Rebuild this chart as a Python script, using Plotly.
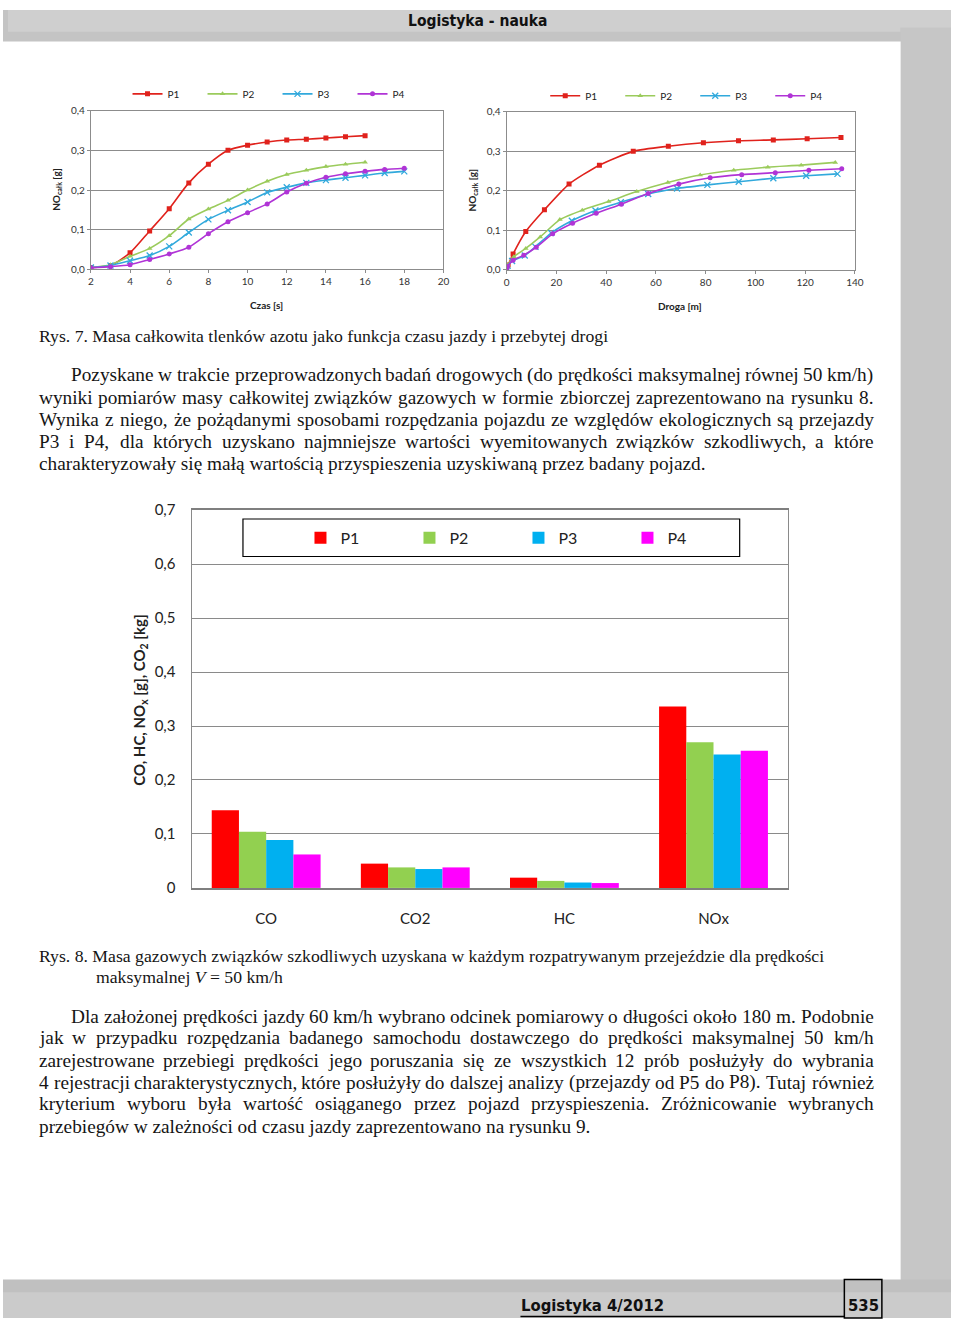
import plotly.graph_objects as go

PAGE_W, PAGE_H = 960, 1326
OX, OY = 0, 0
FIG_W, FIG_H = PAGE_W - 2 * OX, PAGE_H - 2 * OY

series = ["P1", "P2", "P3", "P4"]

# ---- Rys. 7 (left): NOx total vs time [s]
time_P1 = [2, 3, 4, 5, 6, 7, 8, 9, 10, 11, 12, 13, 14, 15, 16]
nox_time_P1 = [0.005, 0.010, 0.042, 0.097, 0.153, 0.218, 0.265, 0.300, 0.313, 0.321, 0.326, 0.328, 0.331, 0.334, 0.337]
time_P2 = [2, 3, 4, 5, 6, 7, 8, 9, 10, 11, 12, 13, 14, 15, 16]
nox_time_P2 = [0.005, 0.012, 0.033, 0.053, 0.085, 0.127, 0.152, 0.174, 0.200, 0.222, 0.239, 0.250, 0.259, 0.265, 0.270]
time_P3 = [2, 3, 4, 5, 6, 7, 8, 9, 10, 11, 12, 13, 14, 15, 16, 17, 18]
nox_time_P3 = [0.005, 0.010, 0.022, 0.035, 0.058, 0.093, 0.126, 0.149, 0.170, 0.194, 0.207, 0.218, 0.225, 0.231, 0.237, 0.243, 0.247]
time_P4 = [2, 3, 4, 5, 6, 7, 8, 9, 10, 11, 12, 13, 14, 15, 16, 17, 18]
nox_time_P4 = [0.004, 0.007, 0.012, 0.025, 0.039, 0.056, 0.090, 0.120, 0.143, 0.165, 0.195, 0.217, 0.232, 0.241, 0.247, 0.252, 0.255]

# ---- Rys. 7 (right): NOx total vs distance [m]
dist_P1 = [0, 0.6, 2.6, 7.7, 15.2, 25.1, 37.3, 50.9, 65.0, 79.1, 93.2, 107.2, 120.8, 134.4]
nox_dist_P1 = [0.005, 0.012, 0.040, 0.097, 0.152, 0.217, 0.265, 0.300, 0.313, 0.322, 0.327, 0.329, 0.332, 0.335]
dist_P2 = [0, 0.5, 2.9, 7.7, 13.5, 21.4, 30.4, 41.0, 52.3, 64.8, 77.8, 91.3, 105.0, 118.4, 132.1]
nox_dist_P2 = [0.005, 0.012, 0.033, 0.054, 0.083, 0.127, 0.151, 0.173, 0.198, 0.221, 0.240, 0.252, 0.260, 0.265, 0.272]
dist_P3 = [0, 0.4, 2.2, 7.3, 11.6, 17.9, 26.2, 35.7, 45.9, 56.9, 68.5, 80.7, 93.3, 107.2, 120.4, 133.0]
nox_dist_P3 = [0.005, 0.010, 0.022, 0.036, 0.058, 0.093, 0.124, 0.150, 0.171, 0.192, 0.206, 0.215, 0.223, 0.232, 0.238, 0.243]
dist_P4 = [0, 0.3, 2.6, 6.9, 11.9, 18.5, 26.5, 36.0, 46.1, 56.9, 69.2, 81.8, 94.5, 108.0, 121.5, 134.7]
nox_dist_P4 = [0.004, 0.008, 0.024, 0.037, 0.057, 0.091, 0.118, 0.143, 0.166, 0.193, 0.217, 0.233, 0.241, 0.246, 0.252, 0.256]

# ---- Rys. 8: bar chart
components = ["CO", "CO2", "HC", "NOx"]
bar_P1 = [0.144, 0.045, 0.019, 0.336]
bar_P2 = [0.104, 0.038, 0.013, 0.270]
bar_P3 = [0.089, 0.035, 0.010, 0.247]
bar_P4 = [0.062, 0.038, 0.009, 0.254]
bar_ticks = [0, 0.1, 0.2, 0.3, 0.4, 0.5, 0.6, 0.7]
bar_ticktext = ["0", "0,1", "0,2", "0,3", "0,4", "0,5", "0,6", "0,7"]

# ---- page text
header_text = "Logistyka - nauka"
footer_text = "Logistyka 4/2012"
page_number = "535"
caption7 = "Rys. 7. Masa całkowita tlenków azotu jako funkcja czasu jazdy i przebytej drogi"
para1 = [
    "Pozyskane w trakcie przeprowadzonych badań drogowych (do prędkości maksymalnej równej 50 km/h)",
    "wyniki pomiarów masy całkowitej związków gazowych w formie zbiorczej zaprezentowano na rysunku 8.",
    "Wynika z niego, że pożądanymi sposobami rozpędzania pojazdu ze względów ekologicznych są przejazdy",
    "P3 i P4, dla których uzyskano najmniejsze wartości wyemitowanych związków szkodliwych, a które",
    "charakteryzowały się małą wartością przyspieszenia uzyskiwaną przez badany pojazd.",
]
caption8_l1 = "Rys. 8. Masa gazowych związków szkodliwych uzyskana w każdym rozpatrywanym przejeździe dla prędkości"
caption8_l2 = "maksymalnej <i>V</i> = 50 km/h"
para2 = [
    "Dla założonej prędkości jazdy 60 km/h wybrano odcinek pomiarowy o długości około 180 m. Podobnie",
    "jak w przypadku rozpędzania badanego samochodu dostawczego do prędkości maksymalnej 50 km/h",
    "zarejestrowane przebiegi prędkości jego poruszania się ze wszystkich 12 prób posłużyły do wybrania",
    "4 rejestracji charakterystycznych, które posłużyły do dalszej analizy (przejazdy od P5 do P8). Tutaj również",
    "kryterium wyboru była wartość osiąganego przez pojazd przyspieszenia. Zróżnicowanie wybranych",
    "przebiegów w zależności od czasu jazdy zaprezentowano na rysunku 9.",
]

# ---------------- styling
line_colors = ["#E0221C", "#9BCB5C", "#31A9DC", "#B034D6"]
symbols = ["square", "triangle-up", "x-thin", "circle"]
bar_colors = ["#FF0000", "#92D050", "#00B0F0", "#FF00FF"]
CHART_FONT = "Lato, 'Open Sans', sans-serif"
SERIF = "'Liberation Serif', 'Times New Roman', serif"
COND = "'Liberation Sans Narrow', 'DejaVu Sans Condensed', 'Roboto Condensed', sans-serif"


def px(x):
    return (x - OX) / FIG_W


def py(y):
    return 1 - (y - OY) / FIG_H


fig = go.Figure()

time_x = [time_P1, time_P2, time_P3, time_P4]
time_y = [nox_time_P1, nox_time_P2, nox_time_P3, nox_time_P4]
dist_x = [dist_P1, dist_P2, dist_P3, dist_P4]
dist_y = [nox_dist_P1, nox_dist_P2, nox_dist_P3, nox_dist_P4]

for i, name in enumerate(series):
    mk = dict(symbol=symbols[i], size=5 if symbols[i] != "x-thin" else 6, color=line_colors[i],
              line=dict(color=line_colors[i], width=1.3 if symbols[i] == "x-thin" else 0))
    fig.add_trace(go.Scatter(x=time_x[i], y=time_y[i], name=name, mode="lines+markers",
                             line=dict(color=line_colors[i], width=1.6, shape="spline", smoothing=0.7),
                             marker=mk, xaxis="x", yaxis="y", legend="legend"))
    fig.add_trace(go.Scatter(x=dist_x[i], y=dist_y[i], name=name, mode="lines+markers",
                             line=dict(color=line_colors[i], width=1.6, shape="spline", smoothing=0.6),
                             marker=mk, xaxis="x2", yaxis="y2", legend="legend2"))

bar_vals = [bar_P1, bar_P2, bar_P3, bar_P4]
for i, name in enumerate(series):
    fig.add_trace(go.Bar(x=components, y=bar_vals[i], name=name, marker=dict(color=bar_colors[i], line=dict(width=0)),
                         xaxis="x3", yaxis="y3", legend="legend3"))

small_axis = dict(showgrid=True, gridcolor="#8C8C8C", gridwidth=1, showline=True, linecolor="#8C8C8C",
                  linewidth=1, mirror=True, ticks="outside", ticklen=3, tickcolor="#8C8C8C",
                  tickfont=dict(family=CHART_FONT, size=10, color="#333333"), zeroline=False, fixedrange=True)

fig.update_layout(
    width=FIG_W, height=FIG_H, autosize=False,
    margin=dict(l=0, r=0, t=0, b=0, pad=0),
    paper_bgcolor="white", plot_bgcolor="rgba(0,0,0,0)",
    separators=", ",
    barmode="group", bargap=0.27, bargroupgap=0,
    showlegend=True,
    xaxis=dict(small_axis, domain=[px(89), px(446)], anchor="y", range=[2, 20], dtick=2, showgrid=False),
    yaxis=dict(small_axis, domain=[py(263), py(102)], anchor="x", range=[0, 0.4], dtick=0.1, tickformat=".1f"),
    xaxis2=dict(small_axis, domain=[px(510), px(862.7)], anchor="y2", range=[0, 140], dtick=20, showgrid=False),
    yaxis2=dict(small_axis, domain=[py(263.3), py(103.3)], anchor="x2", range=[0, 0.4], dtick=0.1, tickformat=".1f"),
    xaxis3=dict(domain=[px(191), px(795)], anchor="y3", type="category", showline=True, linecolor="#7F7F7F",
                linewidth=1.5, mirror=True, ticks="", ticklabelstandoff=16,
                tickfont=dict(family=CHART_FONT, size=15, color="#222222"), fixedrange=True),
    yaxis3=dict(domain=[py(890), py(507)], anchor="x3", range=[0, 0.7], tickvals=bar_ticks, ticktext=bar_ticktext,
                showgrid=True, gridcolor="#8A8A8A", gridwidth=1.3, showline=True, linecolor="#8A8A8A",
                linewidth=1.3, mirror=True, ticks="", ticklabelstandoff=12, zeroline=False,
                tickfont=dict(family=CHART_FONT, size=15, color="#222222"), fixedrange=True),
    legend=dict(orientation="h", x=px(278), y=py(85), xanchor="center", yanchor="middle",
                font=dict(family=CHART_FONT, size=10, color="#222222"), itemwidth=30, entrywidth=30,
                bgcolor="rgba(0,0,0,0)"),
    legend2=dict(orientation="h", x=px(701), y=py(87), xanchor="center", yanchor="middle",
                 font=dict(family=CHART_FONT, size=10, color="#222222"), itemwidth=30, entrywidth=30,
                 bgcolor="rgba(0,0,0,0)"),
    legend3=dict(orientation="h", x=px(522), y=py(535), xanchor="center", yanchor="middle",
                 font=dict(family=CHART_FONT, size=16, color="#222222"), entrywidth=64,
                 bgcolor="rgba(0,0,0,0)"),
)

shapes = []


def rect(x0, y0, x1, y1, fill=None, line=None, layer="below"):
    d = dict(type="rect", xref="paper", yref="paper", x0=px(x0), x1=px(x1), y0=py(y1), y1=py(y0), layer=layer)
    d["fillcolor"] = fill if fill else "rgba(0,0,0,0)"
    d["line"] = line if line else dict(width=0)
    shapes.append(d)


# page decorations
rect(0, 0, 960, 32, "#C4C4C4")
rect(5, 0, 960, 18, "#CFCFCF")
rect(5, 0, 909, 22, "#CFCFCF")
rect(909, 18, 960, 1300, "#C6C6C6")
rect(0, 1287, 960, 1326, "#C0C0C0")
rect(0, 1300, 960, 1326, "#CBCBCB")
rect(852, 1287, 890, 1326, None, dict(color="black", width=1.5), layer="above")
shapes.append(dict(type="line", xref="paper", yref="paper", x0=px(524), x1=px(852), y0=py(1324.5), y1=py(1324.5),
                   line=dict(color="black", width=1.5)))
# bar chart legend box
rect(243, 516, 746, 554, None, dict(color="black", width=1.2), layer="above")

annotations = []


def text(s, x, y, size, family=SERIF, xanchor="left", color="#151515", angle=0):
    annotations.append(dict(text=s, x=px(x), y=py(y), xref="paper", yref="paper", xanchor=xanchor,
                            yanchor="middle", showarrow=False, textangle=angle, borderpad=0,
                            font=dict(family=family, size=size, color=color)))


# Times metrics (1/1000 em)
TW = {" ": 250, "(": 333, ")": 333, ",": 250, "-": 333, ".": 250, "/": 278, ":": 278, "=": 564,
      "A": 722, "B": 667, "C": 667, "D": 722, "E": 611, "F": 556, "G": 722, "H": 722, "I": 333, "J": 389,
      "K": 722, "L": 611, "M": 889, "N": 722, "O": 722, "P": 556, "Q": 722, "R": 667, "S": 556, "T": 611,
      "U": 722, "V": 722, "W": 944, "X": 722, "Y": 722, "Z": 611, "Ż": 611,
      "a": 444, "b": 500, "c": 444, "d": 500, "e": 444, "f": 333, "g": 500, "h": 500, "i": 278, "j": 278,
      "k": 500, "l": 278, "m": 778, "n": 500, "o": 500, "p": 500, "q": 500, "r": 333, "s": 389, "t": 278,
      "u": 500, "v": 500, "w": 722, "x": 500, "y": 500, "z": 444,
      "ą": 444, "ć": 444, "ę": 444, "ł": 278, "ń": 500, "ó": 500, "ś": 389, "ź": 444, "ż": 444}


def tw(s, size):
    return sum(TW.get(c, 500) for c in s) * size / 1000.0


def justified(line, x0, x1, y, size):
    words = line.split(" ")
    widths = [tw(w, size) for w in words]
    gap = (x1 - x0 - sum(widths)) / (len(words) - 1)
    x = x0
    for w, wd in zip(words, widths):
        text(w, x, y, size)
        x += wd + gap


BODY = 19.3
CAP = 17.7

text(caption7, 35, 330, CAP)
p1_y = [370, 393, 415, 437, 460]
for k, line in enumerate(para1):
    x0 = 68 if k == 0 else 35
    if k == len(para1) - 1:
        text(line, x0, p1_y[k], BODY)
    else:
        justified(line, x0, 880, p1_y[k], BODY)

text(caption8_l1, 35, 959, CAP)
text(caption8_l2, 93, 980, CAP)
p2_y = [1020, 1042, 1065, 1087, 1109, 1132]
for k, line in enumerate(para2):
    x0 = 68 if k == 0 else 35
    if k == len(para2) - 1:
        text(line, x0, p2_y[k], BODY)
    else:
        justified(line, x0, 880, p2_y[k], BODY)

# header / footer
text("<b>" + header_text + "</b>", 481, 11, 15.5, family=COND, xanchor="center", color="#111111")
text("<b>" + footer_text + "</b>", 597, 1313, 16.5, family=COND, xanchor="center", color="#111111")
text("<b>" + page_number + "</b>", 871, 1313, 16.5, family=COND, xanchor="center", color="#111111")

# axis titles
text("<b>Czas [s]</b>", 267, 299, 10, family=CHART_FONT, xanchor="center", color="#222222")
text("<b>Droga [m]</b>", 686, 300, 10, family=CHART_FONT, xanchor="center", color="#222222")
text("<b>NO<sub>całk</sub> [g]</b>", 54, 182, 10, family=CHART_FONT, xanchor="center", color="#222222", angle=-90)
text("<b>NO<sub>całk</sub> [g]</b>", 475, 183, 10, family=CHART_FONT, xanchor="center", color="#222222", angle=-90)
text("<b>CO, HC, NO<sub>x</sub> [g], CO<sub>2</sub> [kg]</b>", 138, 699, 15, family=CHART_FONT, xanchor="center",
     color="#222222", angle=-90)

fig.update_layout(shapes=shapes, annotations=annotations)
fig.write_html("out.html")
